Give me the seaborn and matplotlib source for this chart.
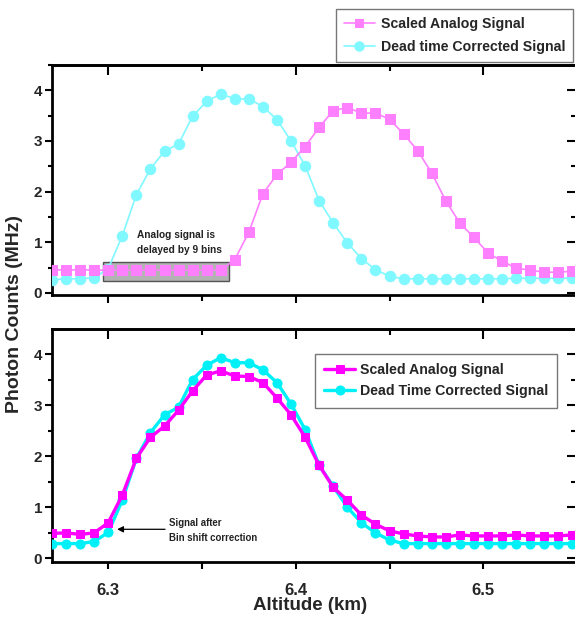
import matplotlib
matplotlib.use("Agg")
import matplotlib.pyplot as plt
import matplotlib.patches as mpatches
from matplotlib.ticker import MultipleLocator, NullFormatter
import seaborn as sns
import pandas as pd

# ---------------- data ----------------
altitude = [6.2700, 6.2775, 6.2850, 6.2925, 6.3000, 6.3075, 6.3150, 6.3225, 6.3300, 6.3375,
            6.3450, 6.3525, 6.3600, 6.3675, 6.3750, 6.3825, 6.3900, 6.3975, 6.4050, 6.4125,
            6.4200, 6.4275, 6.4350, 6.4425, 6.4500, 6.4575, 6.4650, 6.4725, 6.4800, 6.4875,
            6.4950, 6.5025, 6.5100, 6.5175, 6.5250, 6.5325, 6.5400, 6.5475]

top_analog = [0.46, 0.45, 0.46, 0.45, 0.45, 0.45, 0.45, 0.45, 0.45, 0.45, 0.45, 0.45, 0.45,
              0.66, 1.20, 1.96, 2.34, 2.58, 2.89, 3.27, 3.60, 3.66, 3.55, 3.55, 3.43, 3.14,
              2.81, 2.37, 1.82, 1.38, 1.10, 0.79, 0.63, 0.49, 0.45, 0.41, 0.41, 0.43]

top_deadtime = [0.26, 0.28, 0.28, 0.30, 0.48, 1.13, 1.94, 2.45, 2.80, 2.94, 3.49, 3.78, 3.93,
                3.83, 3.83, 3.68, 3.42, 3.00, 2.51, 1.82, 1.38, 0.99, 0.68, 0.46, 0.33,
                0.28, 0.28, 0.28, 0.28, 0.28, 0.28, 0.28, 0.28, 0.29, 0.29, 0.29, 0.29, 0.29]

bottom_analog = [0.49, 0.50, 0.47, 0.50, 0.70, 1.24, 1.96, 2.37, 2.59, 2.90, 3.28, 3.59, 3.67,
                 3.57, 3.56, 3.44, 3.14, 2.81, 2.37, 1.82, 1.39, 1.14, 0.85, 0.67, 0.54,
                 0.48, 0.44, 0.42, 0.42, 0.46, 0.44, 0.44, 0.44, 0.46, 0.44, 0.44, 0.44, 0.46]

bottom_deadtime = [0.29, 0.29, 0.29, 0.33, 0.51, 1.14, 1.96, 2.46, 2.81, 2.96, 3.50, 3.78, 3.93,
                   3.83, 3.83, 3.69, 3.44, 3.02, 2.52, 1.82, 1.41, 1.00, 0.70, 0.50, 0.36,
                   0.29, 0.29, 0.29, 0.29, 0.29, 0.29, 0.29, 0.29, 0.29, 0.29, 0.29, 0.29, 0.29]

top_labels = ["Scaled Analog Signal", "Dead time Corrected Signal"]
bottom_labels = ["Scaled Analog Signal", "Dead Time Corrected Signal"]
x_ticks = [6.3, 6.4, 6.5]
y_ticks = [0, 1, 2, 3, 4]

# ---------------- style ----------------
sns.set_theme(style="white")
FONT = ["Liberation Sans Narrow", "Liberation Sans", "DejaVu Sans"]
plt.rcParams["font.family"] = FONT
plt.rcParams["font.weight"] = "bold"

W, H = 575, 619
fig = plt.figure(figsize=(W / 100, H / 100), dpi=100)
fig.patch.set_facecolor("white")

def fx(px):
    return px / W

def fy(py):
    return 1 - py / H

left, right = 52, 577
ax_top = fig.add_axes([fx(left), fy(295), fx(right - left), fy(65) - fy(295)])
ax_bot = fig.add_axes([fx(left), fy(562), fx(right - left), fy(329) - fy(562)])

df_top = pd.DataFrame({"alt": altitude, "analog": top_analog, "dead": top_deadtime})
df_bot = pd.DataFrame({"alt": altitude, "analog": bottom_analog, "dead": bottom_deadtime})

pink_l, cyan_l = "#FF80FF", "#80F8FF"
pink, cyan = "#FF00FF", "#00F0F8"

# top panel
sns.lineplot(data=df_top, x="alt", y="dead", ax=ax_top, color=cyan_l, lw=1.2,
             marker="o", markersize=7.5, markeredgecolor=cyan_l, label=top_labels[1], zorder=3)
sns.lineplot(data=df_top, x="alt", y="analog", ax=ax_top, color=pink_l, lw=1.2,
             marker="s", markersize=7, markeredgecolor=pink_l, label=top_labels[0], zorder=4)

# bottom panel
sns.lineplot(data=df_bot, x="alt", y="dead", ax=ax_bot, color=cyan, lw=2.4,
             marker="o", markersize=6.5, markeredgecolor=cyan, label=bottom_labels[1], zorder=3)
sns.lineplot(data=df_bot, x="alt", y="analog", ax=ax_bot, color=pink, lw=2.4,
             marker="s", markersize=6, markeredgecolor=pink, label=bottom_labels[0], zorder=4)

for ax, ylim in ((ax_top, (-0.04, 4.5)), (ax_bot, (-0.07, 4.49))):
    ax.set_xlim(6.27, 6.55)
    ax.set_ylim(*ylim)
    ax.set_xlabel("")
    ax.set_ylabel("")
    ax.xaxis.set_major_locator(MultipleLocator(0.1))
    ax.xaxis.set_minor_locator(MultipleLocator(0.05))
    ax.yaxis.set_major_locator(MultipleLocator(1))
    ax.yaxis.set_minor_locator(MultipleLocator(0.5))
    ax.set_yticks(y_ticks)
    ax.set_yticklabels([str(v) for v in y_ticks], fontsize=11, fontweight="bold")
    ax.tick_params(axis="both", which="both", bottom=True, left=True, top=False, right=False,
                   direction="out", color="black", width=1.5)
    ax.tick_params(axis="x", which="major", length=6)
    ax.tick_params(axis="x", which="minor", length=4)
    ax.tick_params(axis="y", which="major", length=5, pad=2)
    ax.tick_params(axis="y", which="minor", length=3)
    for s in ("left", "bottom", "top"):
        ax.spines[s].set_linewidth(2.0)
        ax.spines[s].set_color("black")
    ax.spines["right"].set_visible(False)
    # top inward ticks
    sec = ax.secondary_xaxis("top")
    sec.xaxis.set_major_locator(MultipleLocator(0.1))
    sec.xaxis.set_minor_locator(MultipleLocator(0.05))
    sec.xaxis.set_major_formatter(NullFormatter())
    sec.tick_params(axis="x", which="major", direction="in", length=7, width=1.5, color="black")
    sec.tick_params(axis="x", which="minor", direction="in", length=4, width=1.5, color="black")
    sec.spines["top"].set_linewidth(2.0)
    # right inward ticks
    secy = ax.secondary_yaxis("right")
    secy.yaxis.set_major_locator(MultipleLocator(1))
    secy.yaxis.set_minor_locator(MultipleLocator(0.5))
    secy.yaxis.set_major_formatter(NullFormatter())
    secy.tick_params(axis="y", which="major", direction="in", length=7, width=1.5, color="black")
    secy.tick_params(axis="y", which="minor", direction="in", length=4, width=1.5, color="black")

ax_top.set_xticks(x_ticks)
ax_top.set_xticklabels([])
ax_bot.set_xticks(x_ticks)
ax_bot.set_xticklabels([f"{v:.1f}" for v in x_ticks], fontsize=12, fontweight="bold")
ax_bot.tick_params(axis="x", which="major", length=5, pad=10)
ax_bot.tick_params(axis="x", which="minor", length=5)

# legends
h, l = ax_top.get_legend_handles_labels()
order = [l.index(top_labels[0]), l.index(top_labels[1])]
leg1 = ax_top.legend([h[i] for i in order], [l[i] for i in order],
                     loc="lower left", bbox_to_anchor=(fx(336), fy(62)),
                     bbox_transform=fig.transFigure, frameon=True, fancybox=False,
                     edgecolor="#777777", framealpha=1, borderaxespad=0,
                     prop={"family": FONT, "weight": "bold", "size": 10.2},
                     handlelength=2.2, handletextpad=0.4, labelspacing=0.65,
                     borderpad=0.55, markerscale=0.9)
leg1.get_frame().set_linewidth(1.0)

h, l = ax_bot.get_legend_handles_labels()
order = [l.index(bottom_labels[0]), l.index(bottom_labels[1])]
leg2 = ax_bot.legend([h[i] for i in order], [l[i] for i in order],
                     loc="upper left", bbox_to_anchor=(fx(315), fy(354)),
                     bbox_transform=fig.transFigure, frameon=True, fancybox=False,
                     edgecolor="#777777", framealpha=1, borderaxespad=0,
                     prop={"family": FONT, "weight": "bold", "size": 10.2},
                     handlelength=2.2, handletextpad=0.3, labelspacing=0.5,
                     borderpad=0.65)
leg2.get_frame().set_linewidth(1.0)

# annotations
rect = mpatches.Rectangle((6.2972, 0.24), 0.0672, 0.38, facecolor="#b3b3b3",
                          edgecolor="#555555", lw=1.0, zorder=2)
ax_top.add_patch(rect)
ax_top.text(6.3152, 1.0, "Analog signal is\ndelayed by 9 bins", fontsize=7.3,
            fontweight="bold", family=FONT, ha="left", va="center", linespacing=1.6,
            color="#222222")

ax_bot.annotate("", xy=(6.3047, 0.57), xytext=(6.3303, 0.57),
                arrowprops=dict(arrowstyle="-|>", color="black", lw=0.9,
                                mutation_scale=9, shrinkA=0, shrinkB=0))
ax_bot.text(6.3324, 0.55, "Signal after\nBin shift correction", fontsize=6.9,
            family=FONT, ha="left", va="center", linespacing=1.6, color="#222222")

# axis labels
fig.text(fx(15), fy(314), "Photon Counts (MHz)", rotation=90, ha="center", va="center",
         fontsize=14, fontweight="bold", family=FONT)
fig.text(fx(310), fy(606), "Altitude (km)", ha="center", va="center",
         fontsize=13.5, fontweight="bold", family=FONT)

fig.savefig("out.png", dpi=100, facecolor="white")
